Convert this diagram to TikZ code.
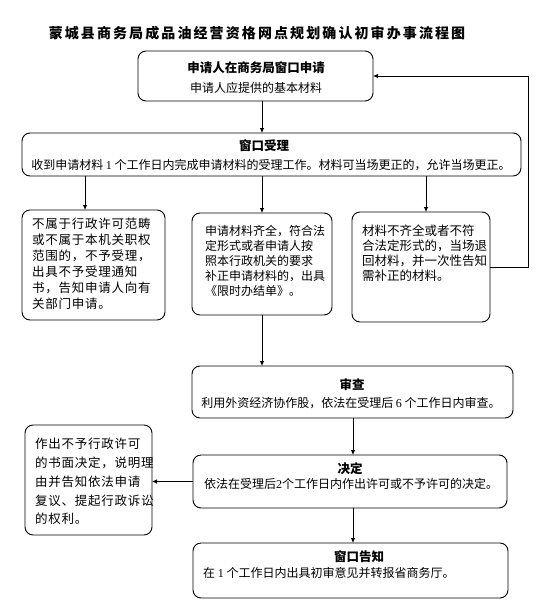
\documentclass[tikz,border=0pt]{standalone}
\usepackage{fontspec}
\setmainfont{Noto Sans CJK SC}
\newfontfamily\numf{Liberation Serif}
\newfontfamily\ttlfont[LetterSpace=15]{Noto Sans CJK SC}
\newfontfamily\sidefont[LetterSpace=6]{Noto Sans CJK SC}
\usetikzlibrary{arrows.meta}
\begin{document}
\begin{tikzpicture}[x=1pt,y=-1pt,
  box/.style={draw,line width=0.9pt,rounded corners=8pt,inner sep=0pt,outer sep=0pt},
  arr/.style={line width=0.8pt,-{Latex[length=5pt,width=4.5pt]}},
  head/.style={inner sep=0pt,font=\fontsize{12.5}{15}\selectfont\bfseries},
  txt/.style={inner sep=0pt,font=\fontsize{12}{15}\selectfont},
  side/.style={inner sep=0pt,align=left,anchor=north west}]
\useasboundingbox (0,0) rectangle (544,614);
% title
\node[inner sep=0pt,font=\ttlfont\fontsize{14}{17}\selectfont\bfseries] (title) at (257,33) {蒙城县商务局成品油经营资格网点规划确认初审办事流程图};
% boxes
\node[box,minimum width=235pt,minimum height=50pt] (box1) at (255.5,76) {};
\node[box,minimum width=499pt,minimum height=43pt] (box2) at (271.5,154.5) {};
\node[box,minimum width=143pt,minimum height=110pt] (b3a) at (93.5,265) {};
\node[box,minimum width=140pt,minimum height=102pt] (b3b) at (262,264) {};
\node[box,minimum width=138pt,minimum height=110pt] (b3c) at (421,267) {};
\node[box,minimum width=321pt,minimum height=52pt] (box4) at (352.5,392) {};
\node[box,minimum width=314pt,minimum height=53pt] (box5) at (350,481.5) {};
\node[box,minimum width=127pt,minimum height=110pt] (b6) at (88.5,480) {};
\node[box,minimum width=315pt,minimum height=55pt] (box7) at (350.5,570.5) {};
% texts
\node[head] (t1a) at (256,68) {申请人在商务局窗口申请};
\node[txt] (t1b) at (256,88) {申请人应提供的基本材料};
\node[head] (t2a) at (264,146) {窗口受理};
\node[txt] (t2b) at (271,165) {收到申请材料 {\numf 1} 个工作日内完成申请材料的受理工作。材料可当场更正的，允许当场更正。};
\node[side,font=\sidefont\fontsize{12.5}{16}\selectfont] (t3a) at (32,218) {不属于行政许可范畴\\或不属于本机关职权\\范围的，不予受理，\\出具不予受理通知\\书，告知申请人向有\\关部门申请。};
\node[side,font=\fontsize{12}{15}\selectfont] (t3b) at (205,225) {申请材料齐全，符合法\\定形式或者申请人按\\照本行政机关的要求\\补正申请材料的，出具\\《限时办结单》。};
\node[side,font=\fontsize{12.5}{15}\selectfont] (t3c) at (362,225) {材料不齐全或者不符\\合法定形式的，当场退\\回材料，并一次性告知\\需补正的材料。};
\node[head] (t4a) at (352,385) {审查};
\node[txt] (t4b) at (351,403) {利用外资经济协作股，依法在受理后 {\numf 6} 个工作日内审查。};
\node[head] (t5a) at (350,469) {决定};
\node[txt] (t5b) at (351,484) {依法在受理后{\numf 2}个工作日内作出许可或不予许可的决定。};
\node[side,font=\sidefont\fontsize{12.5}{18.8}\selectfont] (t6) at (35,438) {作出不予行政许可\\的书面决定，说明理\\由并告知依法申请\\复议、提起行政诉讼\\的权利。};
\node[head] (t7a) at (359,557) {窗口告知};
\node[txt,anchor=west] (t7b) at (203,573) {在 {\numf 1} 个工作日内出具初审意见并转报省商务厅。};
% connectors
\coordinate (xa) at (85,0);
\coordinate (xb) at (262,0);
\coordinate (xc) at (426,0);
\coordinate (xd) at (353,0);
\coordinate (xr) at (528,0);
\draw[arr] (box1.south -| xb) -- (box2.north -| xb);
\draw[arr] (box2.south -| xa) -- (b3a.north -| xa);
\draw[arr] (box2.south -| xb) -- (b3b.north);
\draw[arr] (box2.south -| xc) -- (b3c.north -| xc);
\draw[arr] (b3c.east) -- (b3c.east -| xr) -- (box1.east -| xr) -- (box1.east);
\draw[arr] (b3b.south) -- (box4.north -| xb);
\draw[arr] (box4.south -| xd) -- (box5.north -| xd);
\draw[arr] (box5.west) -- (box5.west -| b6.east);
\draw[arr] (box5.south -| xd) -- (box7.north -| xd);
\end{tikzpicture}
\end{document}
